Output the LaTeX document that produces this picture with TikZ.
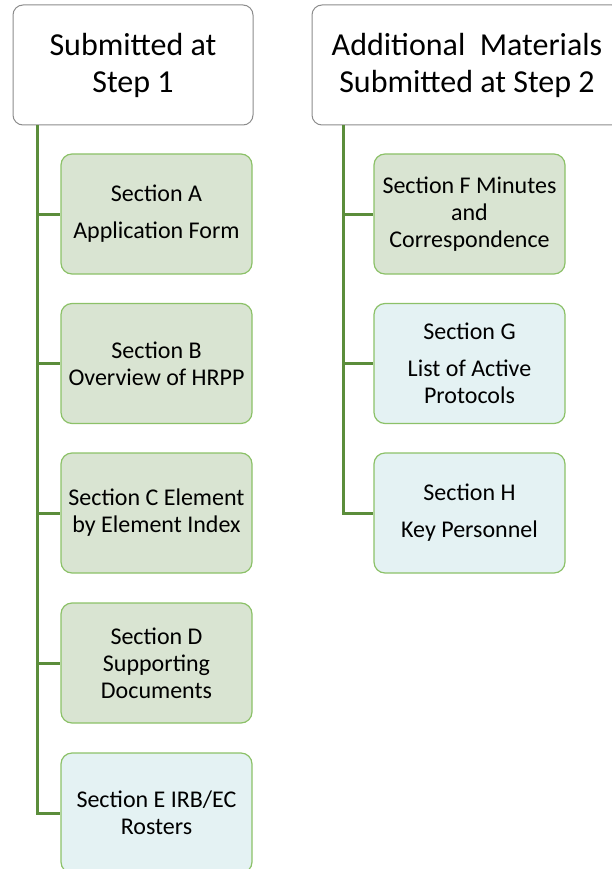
\documentclass[tikz,border=0pt]{standalone}
\usepackage{fontspec}
\setmainfont{Carlito}
\definecolor{hdrgray}{HTML}{8C8C8C}
\definecolor{trunkgreen}{HTML}{5B8D3B}
\definecolor{edgegreen}{HTML}{8CC168}
\definecolor{fillgreen}{HTML}{D9E4D2}
\definecolor{fillblue}{HTML}{E4F2F3}
\begin{document}
\begin{tikzpicture}[x=1pt,y=1pt,
    header/.style={draw=hdrgray,line width=1pt,rounded corners=10pt,fill=white,
      minimum height=120pt,inner sep=0pt,align=center,
      font=\fontsize{32}{37}\selectfont},
    section/.style={draw=edgegreen,line width=1.2pt,rounded corners=11pt,
      minimum width=191pt,minimum height=120pt,inner sep=0pt,align=center,
      font=\fontsize{24}{27}\selectfont},
    greenbox/.style={section,fill=fillgreen},
    bluebox/.style={section,fill=fillblue},
    trunk/.style={trunkgreen,line width=3pt}]
  \clip (0,0) rectangle (612,-869);
  % headers
  \node[header,minimum width=240pt] (hdrL) at (133,-65) {Submitted at\\Step 1};
  \node[header,minimum width=310pt] (hdrR) at (467,-65) {Additional~ Materials\\Submitted at Step 2};
  % step 1 sections
  \node[greenbox] (secA) at (156.5,-214) {Section A\\[10pt]Application Form};
  \node[greenbox] (secB) at (156.5,-363.5) {Section B\\Overview of HRPP};
  \node[greenbox] (secC) at (156.5,-513) {Section C Element\\by Element Index};
  \node[greenbox] (secD) at (156.5,-663) {Section D\\Supporting\\Documents};
  \node[bluebox] (secE) at (156.5,-813) {Section E IRB/EC\\Rosters};
  % step 2 sections
  \node[greenbox] (secF) at (469.5,-214) {Section F Minutes\\and\\Correspondence};
  \node[bluebox] (secG) at (469.5,-363.5) {Section G\\[10pt]List of Active\\Protocols};
  \node[bluebox] (secH) at (469.5,-513) {Section H\\[10pt]Key Personnel};
  % connectors
  \path (hdrL.south west) ++(25,0) coordinate (trunkL);
  \path (hdrR.south west) ++(32,0) coordinate (trunkR);
  \foreach \s in {secA,secB,secC,secD,secE}
    \draw[trunk] (trunkL) |- (\s.west);
  \foreach \s in {secF,secG,secH}
    \draw[trunk] (trunkR) |- (\s.west);
\end{tikzpicture}
\end{document}
